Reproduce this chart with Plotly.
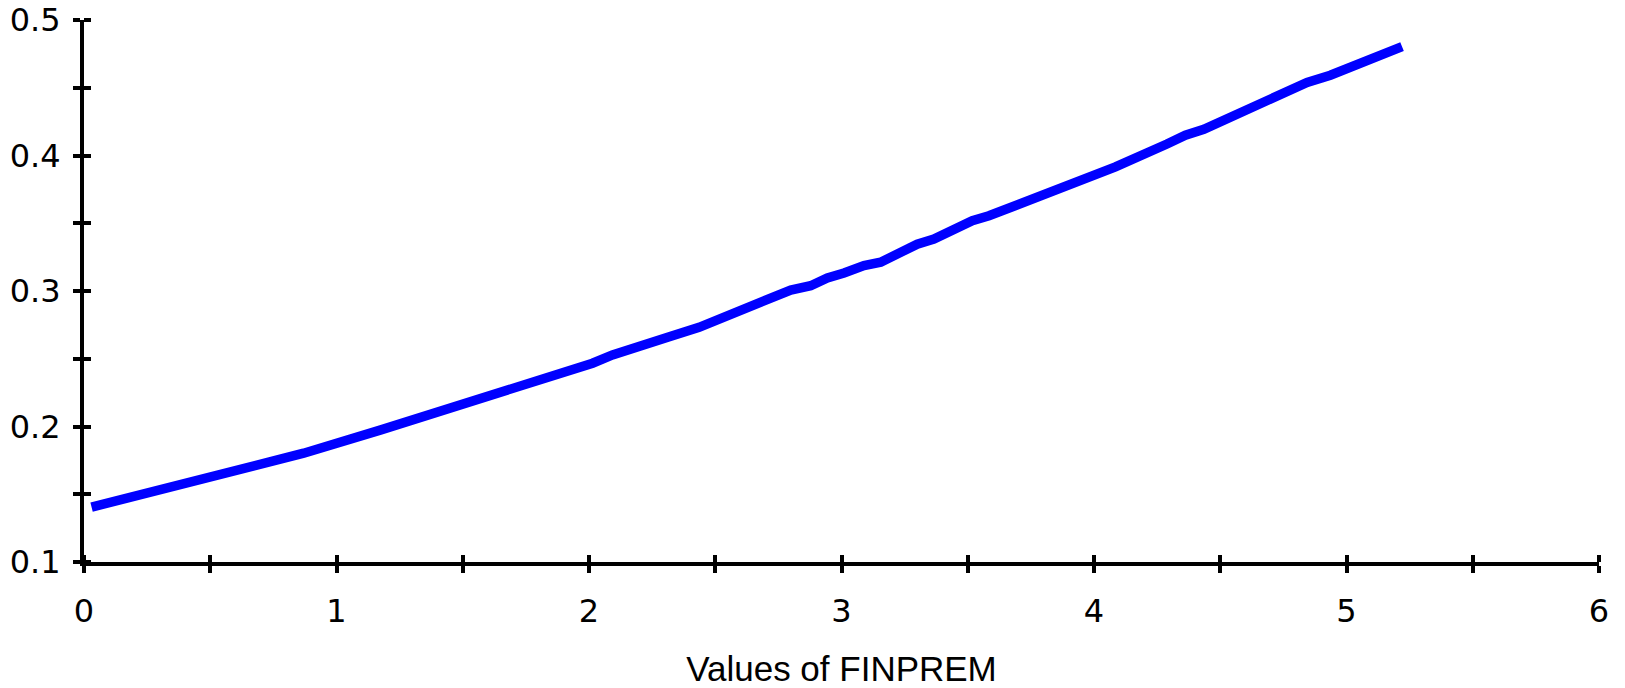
import plotly.graph_objects as go

# Values
finprem = [0.030, 0.167, 0.326, 0.392, 0.590, 0.669, 0.870, 1.176, 1.467, 1.711,
           1.790, 2.014, 2.093, 2.225, 2.318, 2.436, 2.515, 2.614, 2.720, 2.799,
           2.878, 2.944, 3.010, 3.089, 3.155, 3.221, 3.300, 3.366, 3.452, 3.518,
           3.584, 3.729, 3.795, 3.993, 4.085, 4.289, 4.362, 4.435, 4.580, 4.646,
           4.844, 4.936, 5.186, 5.220]
prob = [0.1405, 0.1472, 0.1545, 0.1577, 0.1678, 0.1705, 0.1803, 0.1975, 0.2143, 0.2297,
        0.2344, 0.2467, 0.2528, 0.2597, 0.2663, 0.2732, 0.2794, 0.2865, 0.2953, 0.3007,
        0.3039, 0.3096, 0.3133, 0.3187, 0.3212, 0.3280, 0.3346, 0.3383, 0.3470, 0.3518,
        0.3555, 0.3658, 0.3703, 0.3855, 0.3916, 0.4085, 0.4150, 0.4194, 0.4318, 0.4379,
        0.4539, 0.4592, 0.4779, 0.4804]

# tick positions (labelled at whole steps, unlabelled half steps)
x_ticks = [0, 0.5, 1, 1.5, 2, 2.5, 3, 3.5, 4, 4.5, 5, 5.5, 6]
x_ticktext = ["0", "", "1", "", "2", "", "3", "", "4", "", "5", "", "6"]
y_ticks = [0.1, 0.15, 0.2, 0.25, 0.3, 0.35, 0.4, 0.45, 0.5]
y_ticktext = ["0.1", "", "0.2", "", "0.3", "", "0.4", "", "0.5"]
x_title = "Values of FINPREM"

fig = go.Figure()
fig.add_trace(go.Scatter(x=finprem, y=prob, mode="lines",
                         line=dict(color="#0000ff", width=9.5),
                         hoverinfo="skip", showlegend=False))

tick_font = dict(family="DejaVu Sans", size=32, color="black")
common = dict(showgrid=False, zeroline=False, tickcolor="black", tickwidth=4, ticklen=7,
              automargin=False, fixedrange=True, ticks="outside",
              showline=True, linewidth=4, linecolor="black", tickfont=tick_font)

fig.update_layout(
    width=1625, height=688,
    margin=dict(l=84, r=26, t=20, b=126, pad=0, autoexpand=False),
    paper_bgcolor="white", plot_bgcolor="white",
    showlegend=False,
    xaxis=dict(range=[0, 6], tickmode="array", tickvals=x_ticks, ticktext=x_ticktext,
               ticklabelstandoff=11,
               minor=dict(ticks="inside", dtick=0.5, tick0=0, ticklen=7, tickwidth=4, tickcolor="black"),
               title=dict(text=x_title, font=dict(family="Liberation Sans", size=35, color="black"), standoff=40),
               **common),
    yaxis=dict(range=[0.1, 0.5], tickmode="array", tickvals=y_ticks, ticktext=y_ticktext,
               ticklabelstandoff=6,
               minor=dict(ticks="inside", dtick=0.05, tick0=0.1, ticklen=7, tickwidth=4, tickcolor="black"),
               **common),
)

fig.write_html("out.html", config={"displayModeBar": False},
               post_script="document.body.style.margin='0px';")
